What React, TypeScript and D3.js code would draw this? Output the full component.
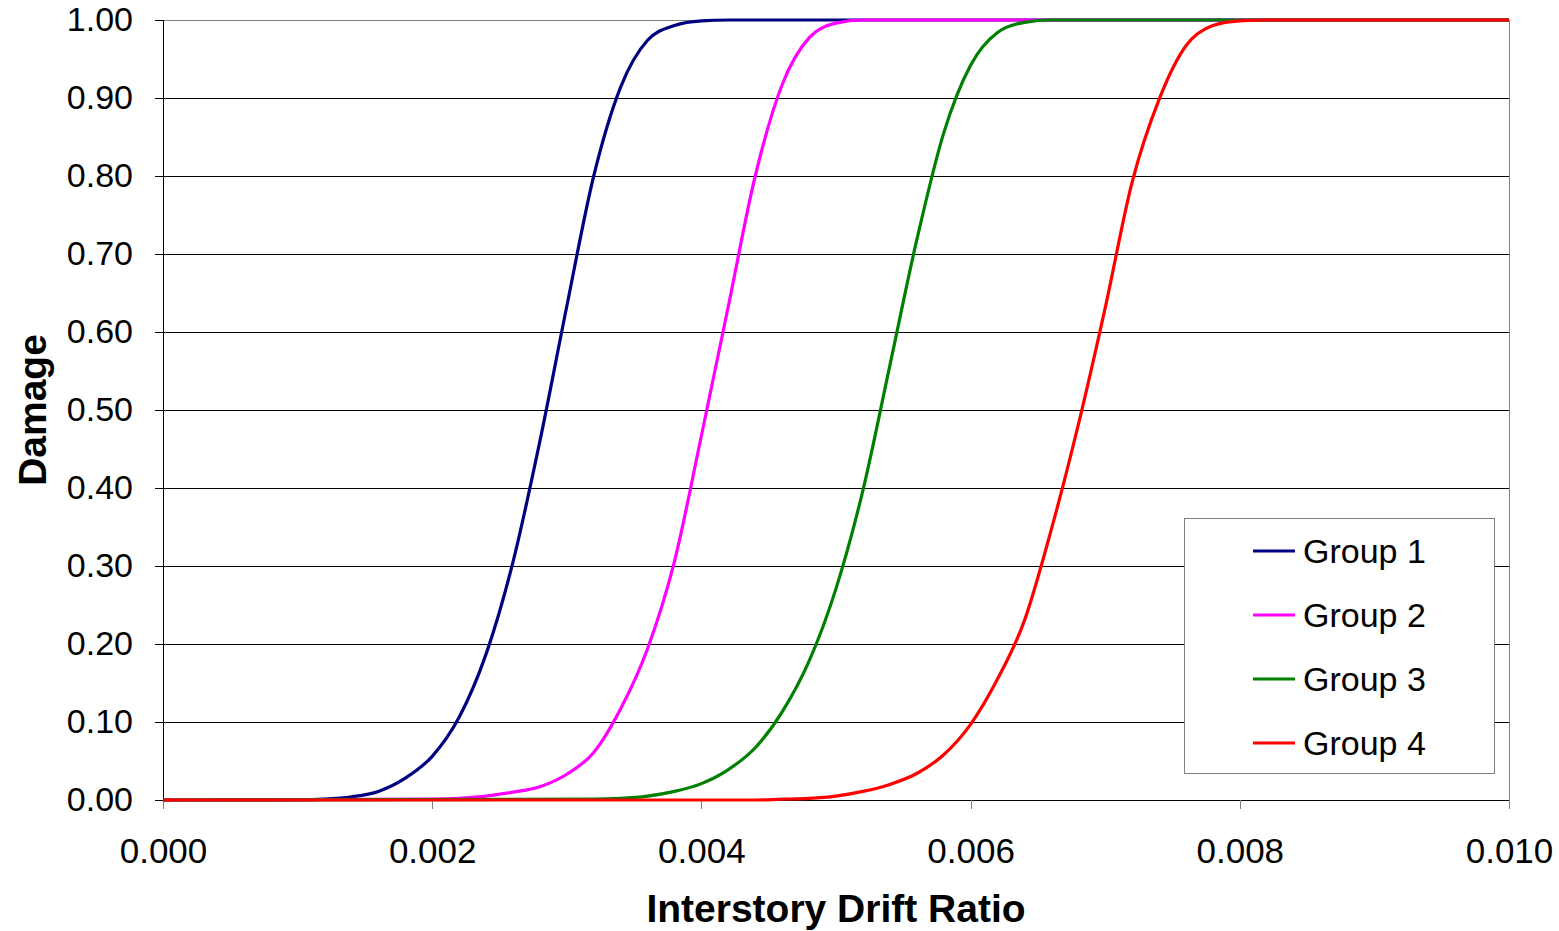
import React, { useEffect, useRef } from 'react';
import * as d3 from 'd3';

// values
const group1Drift = [0, 0.0010, 0.0012, 0.0014, 0.0016, 0.0018, 0.0020, 0.0022, 0.0024, 0.0026, 0.0028, 0.0030, 0.0032, 0.0034, 0.0036, 0.0038, 0.0040, 0.0042, 0.0100];
const group1Damage = [0, 0, 0.001, 0.004, 0.011, 0.028, 0.056, 0.106, 0.187, 0.305, 0.46, 0.633, 0.80, 0.914, 0.974, 0.993, 0.999, 1, 1];

const group2Drift = [0, 0.0020, 0.0022, 0.0024, 0.0026, 0.0028, 0.0030, 0.0032, 0.0034, 0.0036, 0.0038, 0.0040, 0.0042, 0.0044, 0.0046, 0.0048, 0.0050, 0.0052, 0.0100];
const group2Damage = [0, 0.001, 0.002, 0.005, 0.010, 0.017, 0.033, 0.061, 0.117, 0.194, 0.306, 0.467, 0.633, 0.80, 0.917, 0.977, 0.996, 1, 1];

const group3Drift = [0, 0.0032, 0.0034, 0.0036, 0.0038, 0.0040, 0.0042, 0.0044, 0.0046, 0.0048, 0.0050, 0.0052, 0.0054, 0.0056, 0.0058, 0.0060, 0.0062, 0.0064, 0.0066, 0.0100];
const group3Damage = [0, 0.001, 0.002, 0.005, 0.011, 0.021, 0.039, 0.067, 0.113, 0.178, 0.271, 0.397, 0.557, 0.718, 0.855, 0.942, 0.984, 0.997, 1, 1];

const group4Drift = [0, 0.0044, 0.0046, 0.0048, 0.0050, 0.0052, 0.0054, 0.0056, 0.0058, 0.0060, 0.0062, 0.0064, 0.0066, 0.0068, 0.0070, 0.0072, 0.0074, 0.0076, 0.0078, 0.0080, 0.0082, 0.0100];
const group4Damage = [0, 0, 0.001, 0.002, 0.005, 0.011, 0.020, 0.034, 0.058, 0.097, 0.155, 0.230, 0.347, 0.481, 0.631, 0.792, 0.898, 0.967, 0.993, 0.999, 1, 1];

const seriesNames = ['Group 1', 'Group 2', 'Group 3', 'Group 4'];
const seriesColors = ['#000080', '#ff00ff', '#008000', '#ff0000'];
const xTicks = [0, 0.002, 0.004, 0.006, 0.008, 0.010];
const yTicks = [0, 0.1, 0.2, 0.3, 0.4, 0.5, 0.6, 0.7, 0.8, 0.9, 1.0];

const series = [
  { drift: group1Drift, damage: group1Damage },
  { drift: group2Drift, damage: group2Damage },
  { drift: group3Drift, damage: group3Damage },
  { drift: group4Drift, damage: group4Damage },
];

const width = 1559;
const height = 931;
const margin = { top: 20, right: 50, bottom: 131, left: 163 };
const font = 'Liberation Sans, Arial, sans-serif';

const App = () => {
  const svgRef = useRef<SVGSVGElement | null>(null);

  useEffect(() => {
    document.body.style.margin = '0';
    if (!svgRef.current) return;
    const svg = d3.select(svgRef.current);
    svg.selectAll('*').remove();

    const x = d3.scaleLinear().domain([0, 0.01]).range([margin.left, width - margin.right]);
    const y = d3.scaleLinear().domain([0, 1]).range([height - margin.bottom, margin.top]);

    svg.append('rect').attr('width', width).attr('height', height).attr('fill', '#fff');

    // plot frame
    svg.append('rect')
      .attr('x', x(0)).attr('y', y(1))
      .attr('width', x(0.01) - x(0)).attr('height', y(0) - y(1))
      .attr('fill', 'none').attr('stroke', '#808080').attr('stroke-width', 1)
      .attr('shape-rendering', 'crispEdges');

    // gridlines
    svg.append('g')
      .selectAll('line')
      .data(yTicks.slice(1, -1))
      .enter().append('line')
      .attr('x1', x(0)).attr('x2', x(0.01))
      .attr('y1', d => y(d)).attr('y2', d => y(d))
      .attr('stroke', '#000').attr('stroke-width', 1)
      .attr('shape-rendering', 'crispEdges');

    // y axis
    const yAxis = svg.append('g')
      .attr('transform', `translate(${x(0)},0)`)
      .call(d3.axisLeft(y).tickValues(yTicks).tickFormat(d3.format('.2f')).tickSize(8).tickPadding(22));
    yAxis.select('.domain').attr('stroke', '#000').attr('shape-rendering', 'crispEdges');
    yAxis.selectAll('.tick line').attr('stroke', '#000').attr('shape-rendering', 'crispEdges');
    yAxis.selectAll('text').attr('font-family', font).attr('font-size', 34).attr('fill', '#000');

    // x axis
    const xAxis = svg.append('g')
      .attr('transform', `translate(0,${y(0)})`)
      .call(d3.axisBottom(x).tickValues(xTicks).tickFormat(d3.format('.3f')).tickSize(9).tickPadding(29));
    xAxis.select('.domain').attr('stroke', '#000').attr('shape-rendering', 'crispEdges');
    xAxis.selectAll('.tick line').attr('stroke', '#808080').attr('shape-rendering', 'crispEdges');
    xAxis.selectAll('text').attr('font-family', font).attr('font-size', 35).attr('fill', '#000');

    // curves
    const line = d3.line<[number, number]>()
      .x(d => x(d[0]))
      .y(d => y(d[1]))
      .curve(d3.curveMonotoneX);

    series.forEach((s, i) => {
      const pts = s.drift.map((v, j) => [v, s.damage[j]] as [number, number]);
      svg.append('path')
        .datum(pts)
        .attr('fill', 'none')
        .attr('stroke', seriesColors[i])
        .attr('stroke-width', 3.2)
        .attr('stroke-linejoin', 'round')
        .attr('d', line);
    });

    // axis titles
    svg.append('text')
      .attr('x', 836)
      .attr('y', 922)
      .attr('text-anchor', 'middle')
      .attr('font-family', font).attr('font-size', 39).attr('font-weight', 'bold')
      .text('Interstory Drift Ratio');

    svg.append('text')
      .attr('transform', `translate(46,${(y(0) + y(1)) / 2}) rotate(-90)`)
      .attr('text-anchor', 'middle')
      .attr('font-family', font).attr('font-size', 39).attr('font-weight', 'bold')
      .text('Damage');

    // legend
    const legend = svg.append('g');
    legend.append('rect')
      .attr('x', 1184).attr('y', 518).attr('width', 310).attr('height', 255)
      .attr('fill', '#fff').attr('stroke', '#808080').attr('stroke-width', 1)
      .attr('shape-rendering', 'crispEdges');
    seriesNames.forEach((name, i) => {
      const ly = 551 + i * 64;
      legend.append('line')
        .attr('x1', 1253).attr('x2', 1295).attr('y1', ly).attr('y2', ly)
        .attr('stroke', seriesColors[i]).attr('stroke-width', 3.2);
      legend.append('text')
        .attr('x', 1303).attr('y', ly)
        .attr('dy', '0.35em')
        .attr('font-family', font).attr('font-size', 34).attr('fill', '#000')
        .text(name);
    });
  }, []);

  return <svg ref={svgRef} width={width} height={height} style={{ display: 'block' }} />;
};

export default App;
